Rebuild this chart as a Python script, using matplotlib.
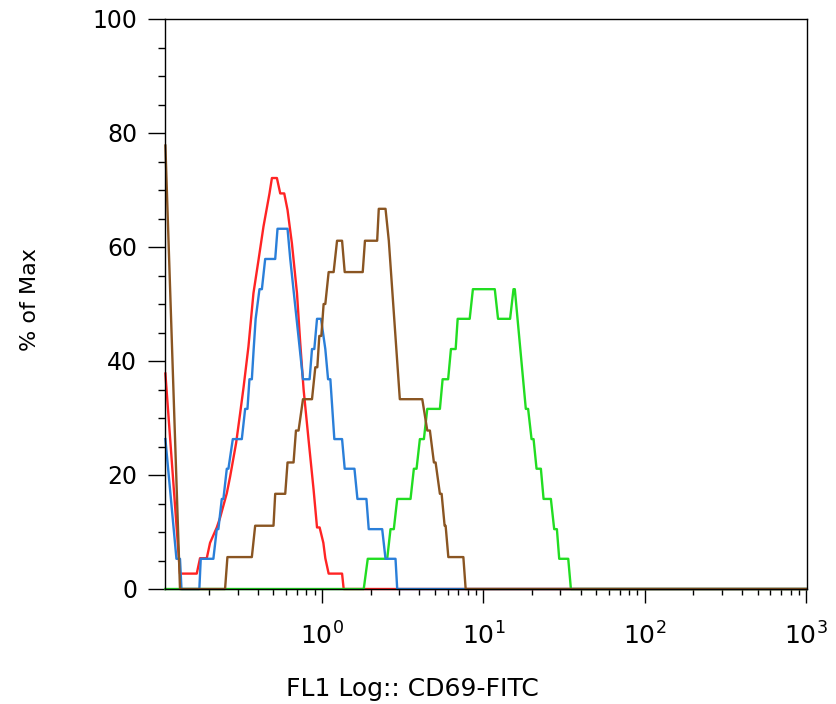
import math
import matplotlib
matplotlib.use("Agg")
import matplotlib.pyplot as plt
from matplotlib.ticker import FixedLocator, LogLocator, NullFormatter, FuncFormatter

# ---- data: FL1 intensity (x) and % of Max (y) of each histogram trace ----
red_x = [0.107, 0.1318, 0.1674, 0.1754, 0.1931, 0.2024, 0.2228, 0.2335, 0.2570, 0.2694,
         0.2935, 0.3108, 0.3268, 0.3499, 0.3759, 0.4039, 0.4338, 0.4726, 0.4892, 0.5253,
         0.5508, 0.5832, 0.6113, 0.6509, 0.6995, 0.7330, 0.7687, 0.8257, 0.8867, 0.9310,
         0.9662, 1.019, 1.048, 1.099, 1.331, 1.362, 1000.0]
red_y = [37.8, 2.7, 2.7, 5.4, 5.4, 8.1, 10.8, 12.5, 16.8, 19.7,
         25.6, 30.8, 35.5, 42.5, 51.9, 57.7, 63.6, 69.4, 72.1, 72.1,
         69.4, 69.4, 66.5, 60.6, 51.9, 43.1, 35.0, 26.1, 17.4, 10.8,
         10.8, 8.1, 5.4, 2.7, 2.7, 0.0, 0.0]

blue_x = [0.107, 0.1253, 0.1318, 0.1346, 0.1737, 0.1772, 0.2122, 0.2228, 0.2279, 0.2393,
          0.2448, 0.2570, 0.2630, 0.2800, 0.3184, 0.3339, 0.3451, 0.3550, 0.3674, 0.3771,
          0.3879, 0.4097, 0.4240, 0.4444, 0.5127, 0.5299, 0.6113, 0.6354, 0.7621, 0.8375,
          0.8667, 0.8958, 0.9310, 0.9858, 1.048, 1.090, 1.126, 1.192, 1.331, 1.382,
          1.588, 1.657, 1.884, 1.947, 2.359, 2.474, 2.853, 2.923, 1000.0]
blue_y = [26.3, 5.3, 5.3, 0.0, 0.0, 5.3, 5.3, 10.5, 10.5, 15.8,
          15.8, 21.1, 21.1, 26.3, 26.3, 31.6, 31.6, 36.8, 36.8, 42.1,
          47.4, 52.6, 52.6, 57.9, 57.9, 63.2, 63.2, 57.9, 36.8, 36.8,
          42.1, 42.1, 47.4, 47.4, 42.1, 36.8, 36.8, 26.3, 26.3, 21.1,
          21.1, 15.8, 15.8, 10.5, 10.5, 5.3, 5.3, 0.0, 0.0]

brown_x = [0.107, 0.1318, 0.2507, 0.2593, 0.3674, 0.3852, 0.5004, 0.5127, 0.5916, 0.6113,
           0.6661, 0.6894, 0.7155, 0.7621, 0.8667, 0.9086, 0.9350, 0.9620, 0.9901, 1.023,
           1.048, 1.099, 1.180, 1.239, 1.331, 1.382, 1.787, 1.845, 2.196, 2.247,
           2.474, 2.593, 3.034, 4.179, 4.489, 4.660, 4.934, 5.055, 5.375, 5.508,
           5.749, 5.832, 6.062, 7.511, 7.762, 1000.0]
brown_y = [77.8, 0.0, 0.0, 5.6, 5.6, 11.1, 11.1, 16.7, 16.7, 22.2,
           22.2, 27.8, 27.8, 33.3, 33.3, 38.9, 38.9, 44.4, 44.4, 50.0,
           50.0, 55.6, 55.6, 61.1, 61.1, 55.6, 55.6, 61.1, 61.1, 66.7,
           66.7, 61.1, 33.3, 33.3, 27.8, 27.8, 22.2, 22.2, 16.7, 16.7,
           11.1, 11.1, 5.6, 5.6, 0.0, 0.0]

green_x = [0.107, 1.813, 1.920, 2.534, 2.656, 2.785, 2.923, 3.535, 3.707, 3.852,
           4.039, 4.277, 4.489, 5.375, 5.587, 6.045, 6.292, 6.730, 6.925, 8.221,
           8.607, 11.76, 12.32, 14.63, 15.36, 15.65, 18.31, 18.92, 19.87, 20.45,
           21.34, 22.70, 23.59, 26.18, 27.45, 28.53, 29.49, 33.54, 34.84, 1000.0]
green_y = [0.0, 0.0, 5.3, 5.3, 10.5, 10.5, 15.8, 15.8, 21.1, 21.1,
           26.3, 26.3, 31.6, 31.6, 36.8, 36.8, 42.1, 42.1, 47.4, 47.4,
           52.6, 52.6, 47.4, 47.4, 52.6, 52.6, 31.6, 31.6, 26.3, 26.3,
           21.1, 21.1, 15.8, 15.8, 10.5, 10.5, 5.3, 5.3, 0.0, 0.0]

y_ticks = [0, 20, 40, 60, 80, 100]
x_ticks = [1, 10, 100, 1000]
x_label = "FL1 Log:: CD69-FITC"
y_label = "% of Max"

# ---- figure ----
plt.rcParams['font.family'] = ['DejaVu Sans']
plt.rcParams['mathtext.fontset'] = 'dejavusans'

fig = plt.figure(figsize=(8.36, 7.04), dpi=100)
ax = fig.add_axes([165/836, 115/704, 642/836, 570/704])

lw = 1.7
ax.plot(red_x, red_y, color='#ff2424', lw=lw, clip_on=False, zorder=2.0)
ax.plot(green_x, green_y, color='#22dd22', lw=lw, clip_on=False, zorder=2.1)
ax.plot(blue_x, blue_y, color='#2a7fd9', lw=lw, clip_on=False, zorder=2.2)
ax.plot(brown_x, brown_y, color='#8a5522', lw=lw, clip_on=False, zorder=2.3)

ax.set_xscale('log')
ax.set_xlim(10**-0.973, 10**3.005)
ax.set_ylim(0, 100)

ax.xaxis.set_major_locator(FixedLocator(x_ticks))
ax.xaxis.set_major_formatter(FuncFormatter(lambda v, p: r'$10^{%d}$' % round(math.log10(v))))
ax.xaxis.set_minor_locator(LogLocator(base=10, subs=range(2, 10), numticks=20))
ax.xaxis.set_minor_formatter(NullFormatter())

ax.yaxis.set_major_locator(FixedLocator(y_ticks))
ax.yaxis.set_minor_locator(FixedLocator(list(range(0, 101, 5))))

for s in ax.spines.values():
    s.set_linewidth(1.0)
    s.set_color('black')
    s.set_zorder(3)

ax.tick_params(axis='x', which='major', length=10, width=1, pad=14, labelsize=18, direction='out')
ax.tick_params(axis='x', which='minor', length=4, width=1, direction='out')
ax.tick_params(axis='y', which='major', length=12, width=1, pad=8, labelsize=17, direction='out')
ax.tick_params(axis='y', which='minor', length=5, width=1, direction='out')

ax.set_xlabel(x_label, fontsize=18)
ax.xaxis.set_label_coords((412 - 165) / 642, (704 - 677 - 115) / 570)
ax.set_ylabel(y_label, fontsize=16)
ax.yaxis.set_label_coords((40 - 165) / 642, (704 - 300 - 115) / 570)

fig.savefig('out.png', dpi=100)
